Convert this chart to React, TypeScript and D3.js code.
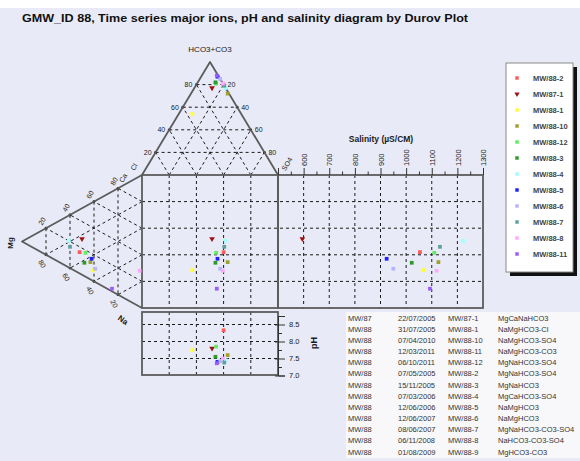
import { useEffect, useRef } from 'react';
import * as d3 from 'd3';

// samples, in legend order
const sampleNames = ['MW/88-2', 'MW/87-1', 'MW/88-1', 'MW/88-10', 'MW/88-12', 'MW/88-3', 'MW/88-4', 'MW/88-5', 'MW/88-6', 'MW/88-7', 'MW/88-8', 'MW/88-11'];
const sampleColors = ['#ff5a5a', '#a01010', '#ffff33', '#a0a030', '#5cee5c', '#2e9a2e', '#a0ffff', '#2020ff', '#b4b4ff', '#5f9f9f', '#ffaaff', '#9a5cff'];

// anions, % meq
const hco3Pct = [80, 77, 54, 72, 81, 82, 77, 87, 85, 79, 81, 88];
const so4Pct = [20, 13, 10, 27, 14, 13, 23, 12, 15, 21, 19, 11];
const clPct = [0, 10, 36, 1, 5, 5, 0, 1, 0, 0, 0, 1];

// cations, % meq
const mgPct = [52, 50, 41, 43, 47, 48, 61, 42, 39, 60, 2, 25];
const naPct = [32, 23, 51, 44, 35, 42, 19, 42, 51, 24, 71, 73];
const caPct = [16, 27, 8, 13, 18, 10, 20, 16, 10, 16, 27, 2];

const salinity = [1054, 595, 1067, 1126, 1110, 1022, 1223, 924, 950, 1132, 1119, 1093];
const phValues = [8.33, 7.8, 7.75, 7.6, 7.85, 7.55, 7.45, 7.4, 7.42, 7.38, 7.5, 7.36];

const triTicks = [20, 40, 60, 80];
const salinityMajor = [500, 600, 700, 800, 900, 1000, 1100, 1200, 1300];
const salinityMinor = [550, 650, 750, 850, 950, 1050, 1150, 1250];
const phMajor = [7.0, 7.5, 8.0, 8.5];
const phMinor = [7.25, 7.75, 8.25, 8.75];

// summary table
const tableWell = ['MW/87', 'MW/88', 'MW/88', 'MW/88', 'MW/88', 'MW/88', 'MW/88', 'MW/88', 'MW/88', 'MW/88', 'MW/88', 'MW/88', 'MW/88'];
const tableDate = ['22/07/2005', '31/07/2005', '07/04/2010', '12/03/2011', '06/10/2011', '07/05/2005', '15/11/2005', '07/03/2006', '12/06/2006', '12/06/2007', '08/06/2007', '06/11/2008', '01/08/2009'];
const tableSample = ['MW/87-1', 'MW/88-1', 'MW/88-10', 'MW/88-11', 'MW/88-12', 'MW/88-2', 'MW/88-3', 'MW/88-4', 'MW/88-5', 'MW/88-6', 'MW/88-7', 'MW/88-8', 'MW/88-9'];
const tableType = ['MgCaNaHCO3', 'NaMgHCO3-Cl', 'NaMgHCO3-SO4', 'NaMgHCO3-CO3', 'MgNaHCO3-SO4', 'MgNaHCO3-SO4', 'MgNaHCO3', 'MgCaHCO3-SO4', 'NaMgHCO3', 'NaMgHCO3', 'MgNaHCO3-CO3-SO4', 'NaHCO3-CO3-SO4', 'MgHCO3-CO3'];

const FONT = 'Liberation Sans, Arial, sans-serif';

export default function App() {
  const svgRef = useRef<SVGSVGElement>(null);

  useEffect(() => {
    if (!svgRef.current) return;
    const svg = d3.select(svgRef.current);
    svg.selectAll('*').remove();

    const width = 580;
    const height = 461;
    svg.attr('width', width).attr('height', height).style('font-family', FONT);

    svg.append('rect').attr('width', width).attr('height', height).attr('fill', '#e8ebf7');
    svg.append('rect').attr('width', width).attr('height', 8).attr('fill', '#ffffff');

    // layout
    const sqL = 142, sqR = 278, sqT = 175, sqB = 308;
    const topApexY = 62, leftApexX = 22;
    const salR = 483;
    const phT = 312, phB = 375;

    // scales
    const anX = d3.scaleLinear().domain([0, 100]).range([sqL, sqR]); // SO4 + HCO3/2
    const anY = d3.scaleLinear().domain([0, 100]).range([sqT, topApexY]); // HCO3
    const catX = d3.scaleLinear().domain([0, 100]).range([sqL, leftApexX]); // Mg
    const catY = d3.scaleLinear().domain([0, 100]).range([sqT, sqB]); // Na + Mg/2
    const salX = d3.scaleLinear().domain([500, 1300]).range([sqR, salR]);
    const phY = d3.scaleLinear().domain([7, 8.75]).range([375.5, 316]);

    const anPt = (h: number, s: number): [number, number] => [anX(s + h / 2), anY(h)];
    const catPt = (m: number, n: number): [number, number] => [catX(m), catY(n + m / 2)];

    const gridCol = '#1a1a1a';
    const frameCol = '#5c5c5c';

    const gridLine = (x1: number, y1: number, x2: number, y2: number) =>
      svg.append('line')
        .attr('x1', x1).attr('y1', y1).attr('x2', x2).attr('y2', y2)
        .attr('stroke', gridCol).attr('stroke-width', 1)
        .attr('stroke-dasharray', '3,3');

    const dot = (p: [number, number]) =>
      svg.append('circle').attr('cx', p[0]).attr('cy', p[1]).attr('r', 1.4).attr('fill', '#111');

    // top triangle grid
    triTicks.forEach((v) => {
      const a = anPt(v, 0), b = anPt(v, 100 - v);
      gridLine(a[0], a[1], b[0], b[1]);
      const c = anPt(0, v), d = anPt(100 - v, v);
      gridLine(c[0], c[1], d[0], d[1]);
      const e = anPt(0, 100 - v), f = anPt(100 - v, 0);
      gridLine(e[0], e[1], f[0], f[1]);
      dot(a); dot(b);
    });

    // left triangle grid
    triTicks.forEach((v) => {
      const a = catPt(v, 0), b = catPt(v, 100 - v);
      gridLine(a[0], a[1], b[0], b[1]);
      const c = catPt(0, v), d = catPt(100 - v, v);
      gridLine(c[0], c[1], d[0], d[1]);
      const e = catPt(0, 100 - v), f = catPt(100 - v, 0);
      gridLine(e[0], e[1], f[0], f[1]);
      dot(a); dot(b);
    });

    // square, salinity and pH grids
    triTicks.forEach((v) => {
      gridLine(anX(v), sqT, anX(v), sqB);
      gridLine(sqL, catY(v), salR, catY(v));
      gridLine(anX(v), phT, anX(v), phB);
    });
    salinityMajor.slice(1, -1).forEach((v) => gridLine(salX(v), sqT, salX(v), sqB));
    phMajor.slice(1).forEach((v) => gridLine(sqL, phY(v), sqR, phY(v)));

    // frames
    const frame = (d: string) =>
      svg.append('path').attr('d', d).attr('fill', 'none')
        .attr('stroke', frameCol).attr('stroke-width', 1.8).attr('stroke-linejoin', 'round');
    const line = d3.line();
    frame(line([anPt(0, 0), anPt(100, 0), anPt(0, 100)]) as string);
    frame(line([catPt(0, 0), catPt(100, 0), catPt(0, 100)]) as string);
    svg.append('rect').attr('x', sqL).attr('y', sqT).attr('width', sqR - sqL).attr('height', sqB - sqT)
      .attr('fill', 'none').attr('stroke', frameCol).attr('stroke-width', 1.8);
    svg.append('rect').attr('x', sqR).attr('y', sqT).attr('width', salR - sqR).attr('height', sqB - sqT)
      .attr('fill', 'none').attr('stroke', frameCol).attr('stroke-width', 1.8);
    svg.append('rect').attr('x', sqL).attr('y', phT).attr('width', sqR - sqL).attr('height', phB - phT)
      .attr('fill', 'none').attr('stroke', frameCol).attr('stroke-width', 1.8);

    const label = (x: number, y: number, t: string, opts: { size?: number; anchor?: string; rot?: number; bold?: boolean } = {}) =>
      svg.append('text')
        .attr('transform', `translate(${x},${y}) rotate(${opts.rot ?? 0})`)
        .attr('text-anchor', opts.anchor ?? 'middle')
        .attr('dy', '0.35em')
        .attr('font-size', opts.size ?? 7)
        .attr('font-weight', opts.bold ? 'bold' : 'normal')
        .attr('fill', '#1a1a1a')
        .text(t);

    // top triangle labels
    triTicks.forEach((v) => {
      const l = anPt(v, 0);
      label(l[0] - 4, l[1], String(v), { anchor: 'end' });
      const r = anPt(v, 100 - v);
      label(r[0] + 4, r[1], String(100 - v), { anchor: 'start' });
    });
    label(210, 49, 'HCO3+CO3', { size: 8 });
    label(134, 167, 'Cl', { size: 7, rot: -60 });
    label(287, 164, 'SO4', { size: 7, rot: -60 });

    // left triangle labels
    triTicks.forEach((v) => {
      const t = catPt(100 - v, 0);
      label(t[0] - 4, t[1] - 7, String(v), { rot: -60 });
      const b = catPt(100 - v, v);
      label(b[0] - 4, b[1] + 9, String(100 - v), { rot: 60 });
    });
    label(123, 178, 'Ca', { size: 7, rot: -60 });
    label(10, 243, 'Mg', { size: 8, rot: -90, bold: true });
    label(123, 320, 'Na', { size: 8, rot: 35, bold: true });

    // salinity axis
    const salAxis = svg.append('g').attr('transform', `translate(0,${sqT})`)
      .call(d3.axisTop(salX).tickValues(salinityMajor).tickSize(7)
        .tickFormat((d) => (d === 500 ? '' : String(d))));
    salAxis.select('.domain').remove();
    salAxis.selectAll('line').attr('stroke', '#333');
    salAxis.selectAll('text')
      .attr('transform', 'rotate(-90)')
      .attr('x', 9).attr('y', 0).attr('dy', '0.35em')
      .attr('text-anchor', 'start')
      .attr('font-size', 7.5).attr('fill', '#1a1a1a')
      .attr('font-family', FONT);
    const salMinor = svg.append('g').attr('transform', `translate(0,${sqT})`)
      .call(d3.axisTop(salX).tickValues(salinityMinor).tickSize(3.5).tickFormat(() => ''));
    salMinor.select('.domain').remove();
    salMinor.selectAll('line').attr('stroke', '#333');
    label(381, 139, 'Salinity (µS/CM)', { size: 8.5, bold: true });

    // pH axis
    const phAxis = svg.append('g').attr('transform', `translate(${sqR},0)`)
      .call(d3.axisRight(phY).tickValues(phMajor).tickSize(7).tickFormat(d3.format('.1f')));
    phAxis.select('.domain').attr('stroke', '#333');
    phAxis.selectAll('line').attr('stroke', '#333').attr('x1', -3);
    phAxis.selectAll('text').attr('x', 11).attr('font-size', 7.5).attr('fill', '#1a1a1a').attr('font-family', FONT);
    const phMin = svg.append('g').attr('transform', `translate(${sqR},0)`)
      .call(d3.axisRight(phY).tickValues(phMinor).tickSize(4).tickFormat(() => ''));
    phMin.select('.domain').remove();
    phMin.selectAll('line').attr('stroke', '#333');
    label(314, 343, 'pH', { size: 9, rot: -90, bold: true });

    // points
    const sym = (i: number, size = 14) =>
      d3.symbol().type(i === 1 ? d3.symbolTriangle : d3.symbolSquare).size(size)();
    const pts = svg.append('g');
    sampleNames.forEach((_, i) => {
      const rot = i === 1 ? 180 : 0;
      const a = anPt(hco3Pct[i], so4Pct[i]);
      const c = catPt(mgPct[i], naPct[i]);
      const spots: [number, number][] = [
        a,
        c,
        [a[0], c[1]],
        [salX(salinity[i]), c[1]],
        [a[0], phY(phValues[i])],
      ];
      spots.forEach((p) => {
        pts.append('path')
          .attr('d', sym(i))
          .attr('transform', `translate(${p[0]},${p[1]}) rotate(${rot})`)
          .attr('fill', sampleColors[i]);
      });
    });
    void clPct; void caPct;

    // legend
    const lgX = 506, lgY = 63, lgW = 67, lgH = 209;
    svg.append('rect').attr('x', lgX + 4).attr('y', lgY + 4).attr('width', lgW).attr('height', lgH).attr('fill', '#111');
    svg.append('rect').attr('x', lgX).attr('y', lgY).attr('width', lgW).attr('height', lgH)
      .attr('fill', '#ffffff').attr('stroke', '#8a8a8a').attr('stroke-width', 1);
    const lgRow = d3.scalePoint<number>().domain(d3.range(sampleNames.length)).range([78, 254]);
    sampleNames.forEach((name, i) => {
      const y = lgRow(i) ?? 0;
      svg.append('path').attr('d', sym(i, 12))
        .attr('transform', `translate(517,${y}) rotate(${i === 1 ? 180 : 0})`)
        .attr('fill', sampleColors[i]);
      svg.append('text').attr('x', 533).attr('y', y).attr('dy', '0.35em')
        .attr('font-size', 7.5).attr('font-weight', 'bold').attr('fill', '#444').text(name);
    });

    // table
    svg.append('rect').attr('x', 346).attr('y', 312).attr('width', 234).attr('height', 146).attr('fill', '#f8f8fa');
    const tRow = d3.scalePoint<number>().domain(d3.range(tableWell.length)).range([318, 452]);
    const cols = [348, 398, 448, 498];
    const colData = [tableWell, tableDate, tableSample, tableType];
    tableWell.forEach((_, r) => {
      const y = tRow(r) ?? 0;
      colData.forEach((col, c) => {
        svg.append('text').attr('x', cols[c]).attr('y', y).attr('dy', '0.35em')
          .attr('font-size', 7.5).attr('fill', '#333').text(col[r]);
      });
    });

    // title
    svg.append('text').attr('x', 22).attr('y', 22)
      .attr('font-size', 11).attr('font-weight', 'bold').attr('fill', '#111')
      .attr('textLength', 446).attr('lengthAdjust', 'spacingAndGlyphs')
      .text('GMW_ID 88, Time series major ions, pH and salinity diagram by Durov Plot');
  }, []);

  return <svg ref={svgRef} style={{ position: 'absolute', left: 0, top: 0, display: 'block' }} />;
}
